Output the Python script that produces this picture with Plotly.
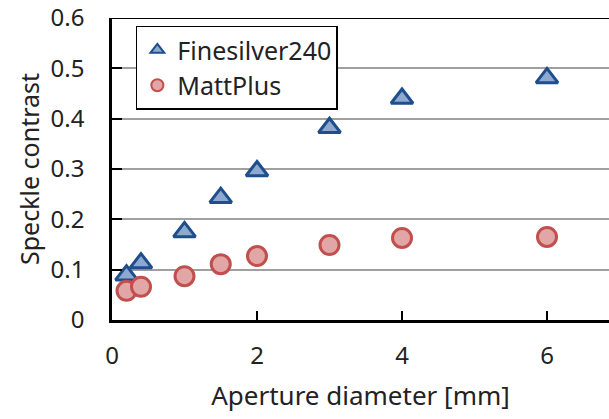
import plotly.graph_objects as go

aperture = [0.2, 0.4, 1.0, 1.5, 2.0, 3.0, 4.0, 6.0]
finesilver240 = [0.089, 0.113, 0.175, 0.243, 0.296, 0.382, 0.440, 0.481]
mattplus = [0.058, 0.066, 0.087, 0.111, 0.127, 0.149, 0.163, 0.165]
x_ticks = [0, 2, 4, 6]
y_ticks = [0, 0.1, 0.2, 0.3, 0.4, 0.5, 0.6]
y_tick_labels = ["0", "0.1", "0.2", "0.3", "0.4", "0.5", "0.6"]

FONT = "Noto Sans"

fig = go.Figure()
fig.add_trace(go.Scatter(
    x=aperture, y=finesilver240, mode="markers", name="Finesilver240",
    marker=dict(symbol="triangle-up", size=19, color="#8ea9d0",
                line=dict(color="#1f4e8c", width=3))))
fig.add_trace(go.Scatter(
    x=aperture, y=mattplus, mode="markers", name="MattPlus",
    marker=dict(symbol="circle", size=19, color="#e3a6a6",
                line=dict(color="#c0504d", width=3))))

fig.update_layout(
    width=609, height=419,
    margin=dict(l=112, r=0, t=18, b=99, autoexpand=False),
    paper_bgcolor="white", plot_bgcolor="white",
    font=dict(family=FONT, size=24, color="#222"),
    showlegend=True,
    legend=dict(x=0.048, y=0.975, xanchor="left", yanchor="top",
                bordercolor="black", borderwidth=1.5, bgcolor="white",
                font=dict(size=25, family=FONT), itemsizing="constant"),
    xaxis=dict(range=[0, 6.855], tickvals=x_ticks, ticks="inside",
               ticklen=9, tickwidth=2, tickcolor="black",
               showline=True, linecolor="black", linewidth=2.5,
               showgrid=False, zeroline=False, ticklabelstandoff=12,
               automargin=False,
               title=dict(text="Aperture diameter [mm]", font=dict(size=26), standoff=18)),
    yaxis=dict(range=[0, 0.6], tickvals=y_ticks, ticktext=y_tick_labels,
               ticks="inside", ticklen=10, tickwidth=2, tickcolor="black",
               showline=True, linecolor="black", linewidth=2.5,
               showgrid=True, gridcolor="#a0a0a0", gridwidth=2,
               zeroline=False, ticklabelstandoff=20, automargin=False,
               title=dict(text="Speckle contrast", font=dict(size=25), standoff=4)),
)
fig.add_shape(type="line", xref="paper", yref="y", x0=0, x1=1, y0=0.6, y1=0.6,
              line=dict(color="black", width=2))

fig.write_html("out.html")
